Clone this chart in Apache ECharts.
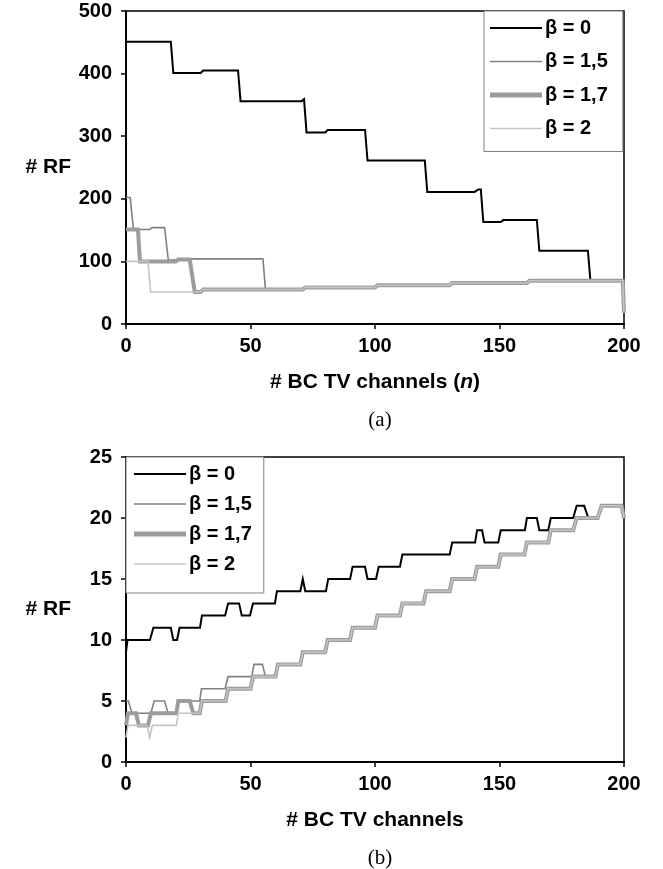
<!DOCTYPE html>
<html><head><meta charset="utf-8">
<script src="https://cdn.jsdelivr.net/npm/echarts@6/dist/echarts.min.js"></script>
<style>html,body{margin:0;padding:0;background:#fff}#c{width:663px;height:869px}</style>
</head><body><div id="c"></div>
<script>
// ---------- data ----------
const seriesNames = ['β = 0', 'β = 1,5', 'β = 1,7', 'β = 2'];
const xTickStep = 50;

// (a) panel: # RF vs # BC TV channels (n)
const aB0N  = [0,18,19,30,31,45,46,70.5,71.5,72.5,80,81,96,97,120,121,140,141.5,142.5,143.5,150.5,151.5,165,166,185.5,186.5];
const aB0RF = [451,451,401,401,405,405,356,356,359,306,306,310,310,261,261,211,211,215,215,163,163,166,166,117,117,70];
const aB15N  = [0,1.7,3,9.5,10.5,15.5,17,20,21,55,56];
const aB15RF = [202,202,151,151,154,154,102,102,104,104,55];
const aB17N  = [0,4.8,5.6,20,21,25.6,27.6,30,31];
const aB17RF = [151,151,100,100,103,103,51,51,55];
const aB2N   = [0,8.8,9.9,30,31];
const aB2RF  = [100,100,51,51,55];
const aTailN  = [71,72,100,101,130,131,161,162,199.5,200];
const aTailRF = [55,58.5,58.5,62,62,65.5,65.5,69,69,18];

// (b) panel: # RF vs # BC TV channels
const bB0N  = [0,0.6,9.6,11,18,19,20.5,21.5,29.7,30.5,39.8,41,45.4,46.5,49.8,51,59.8,60.6,70,71,72,80.3,81.2,90,91,96,97,100.4,101.5,110,111,130,131,140.2,141,143,144,149.5,150.5,160.2,161,165,166,169.6,170.6,179.6,181,184,185.7];
const bB0RF = [9,10,10,11,11,10,10,11,11,12,12,13,13,12,12,13,13,14,14,15,14,14,15,15,16,16,15,15,16,16,17,17,18,18,19,19,18,18,19,19,20,20,19,19,20,20,21,21,20];
const bB15N  = [0,1,2.4,10,11.3,15.5,16.9,20.2,21,29.6,30.3,39.8,41,50.5,51.4,54.8,56,60];
const bB15RF = [5,5,4,4,5,5,4,4,5,5,6,6,7,7,8,8,7,7];
const bB17N  = [0,0.8,4,5.2,8.8,10,20.2,21,25.6,27,29.6,30.5,40,41,50,51,60];
const bB17RF = [3,4,4,3,3,4,4,5,5,4,4,5,5,6,6,7,7];
const bB2N   = [0,0.8,8.4,9.5,10.6,20.2,21,29.6,30.5,40,41,50,51,60];
const bB2RF  = [2,3,3,2,3,3,4,4,5,5,6,6,7,7];
const bTailN  = [61,70,71,80,81,90,91,100,101,110,111,119.5,120.5,130,131,140,141,149.5,150.5,160,161,169.6,170.6,179.6,181,189.4,191,199,200];
const bTailRF = [8,8,9,9,10,10,11,11,12,12,13,13,14,14,15,15,16,16,17,17,18,18,19,19,20,20,21,21,20];

// ---------- build ----------
function pairs(xs, ys) { return xs.map((x, i) => [x, ys[i]]); }
function withTail(xs, ys, tx, ty) { return pairs(xs.concat(tx), ys.concat(ty)); }

const FONT = '"Liberation Sans", Arial, sans-serif';
const styles = [
  { color: '#000000', width: 2 },
  { color: '#808080', width: 1.6 },
  { color: '#9c9c9c', width: 4 },
  { color: '#c4c4c4', width: 1.6 }
];

const panelA = [
  pairs(aB0N, aB0RF),
  withTail(aB15N, aB15RF, aTailN, aTailRF),
  withTail(aB17N, aB17RF, aTailN, aTailRF),
  withTail(aB2N, aB2RF, aTailN, aTailRF)
];
const panelB = [
  pairs(bB0N, bB0RF),
  withTail(bB15N, bB15RF, bTailN, bTailRF),
  withTail(bB17N, bB17RF, bTailN, bTailRF),
  withTail(bB2N, bB2RF, bTailN, bTailRF)
];

function mkX(idx, nameRich) {
  return {
    type: 'value', gridIndex: idx, min: 0, max: 200, interval: xTickStep,
    axisLine: { lineStyle: { color: '#000', width: 2 } },
    axisTick: { show: true, length: 5, lineStyle: { color: '#000', width: 1.5 } },
    axisLabel: { color: '#000', fontFamily: FONT, fontWeight: 'bold', fontSize: 20, margin: 12 },
    splitLine: { show: false },
    name: nameRich, nameLocation: 'middle', nameGap: 48,
    nameTextStyle: {
      rich: {
        a: { color: '#000', fontFamily: FONT, fontWeight: 'bold', fontSize: 21 },
        b: { color: '#000', fontFamily: FONT, fontWeight: 'bold', fontStyle: 'italic', fontSize: 21 }
      }
    }
  };
}
function mkY(idx, max, step) {
  return {
    type: 'value', gridIndex: idx, min: 0, max: max, interval: step,
    axisLine: { show: true, lineStyle: { color: '#000', width: 2 } },
    axisTick: { show: true, length: 5, lineStyle: { color: '#000', width: 1.5 } },
    axisLabel: { color: '#000', fontFamily: FONT, fontWeight: 'bold', fontSize: 20, margin: 14 },
    splitLine: { show: false },
    name: '# RF', nameLocation: 'middle', nameRotate: 0, nameGap: 55,
    nameTextStyle: { color: '#000', fontFamily: FONT, fontWeight: 'bold', fontSize: 21 }
  };
}

const series = [];
[panelA, panelB].forEach((panel, gi) => {
  panel.forEach((data, si) => {
    series.push({
      type: 'line', name: seriesNames[si], xAxisIndex: gi, yAxisIndex: gi,
      data: data, symbol: 'none', showSymbol: false,
      lineStyle: { color: styles[si].color, width: styles[si].width, join: 'miter' },
      itemStyle: { color: styles[si].color },
      animation: false, z: 2 + si
    });
  });
});

const legendIconH = [2, 1.5, 5, 1.5];
function legendData() {
  return seriesNames.map((n, i) => ({
    name: n,
    icon: 'path://M0,0H52V' + legendIconH[i] + 'H0Z',
    itemStyle: { color: styles[i].color }
  }));
}
function mkLegend(left, top, gap, pad) {
  return {
    orient: 'vertical', left: left, top: top, itemGap: gap, itemWidth: 52, itemHeight: 20,
    padding: pad, borderColor: '#808080', borderWidth: 1, backgroundColor: '#fff',
    data: legendData(), selectedMode: false, symbolKeepAspect: true,
    textStyle: { color: '#000', fontFamily: FONT, fontWeight: 'bold', fontSize: 20, padding: [0,0,0,-2] }
  };
}

const chart = echarts.init(document.getElementById('c'), null, { renderer: 'canvas' });
chart.setOption({
  animation: false,
  backgroundColor: '#fff',
  grid: [
    { left: 126, right: 39, top: 11, height: 313, show: true, borderColor: '#000', borderWidth: 1.5, containLabel: false },
    { left: 126, right: 39, top: 457, height: 305, show: true, borderColor: '#000', borderWidth: 1.5, containLabel: false }
  ],
  xAxis: [ mkX(0, '{a|# BC TV channels (}{b|n}{a|)}'), mkX(1, '{a|# BC TV channels}') ],
  yAxis: [ mkY(0, 500, 100), mkY(1, 25, 5) ],
  legend: [ mkLegend(484, 11, 13.5, [7, 15, 13, 6]), mkLegend(126, 457, 10, [7, 12, 19, 8]) ],
  title: [
    { text: '(a)', left: 375, top: 405, textAlign: 'center',
      textStyle: { fontFamily: '"Liberation Serif", "Times New Roman", serif', fontWeight: 'normal', fontSize: 21, color: '#000' } },
    { text: '(b)', left: 375, top: 843, textAlign: 'center',
      textStyle: { fontFamily: '"Liberation Serif", "Times New Roman", serif', fontWeight: 'normal', fontSize: 21, color: '#000' } }
  ],
  series: series
});
</script></body></html>
